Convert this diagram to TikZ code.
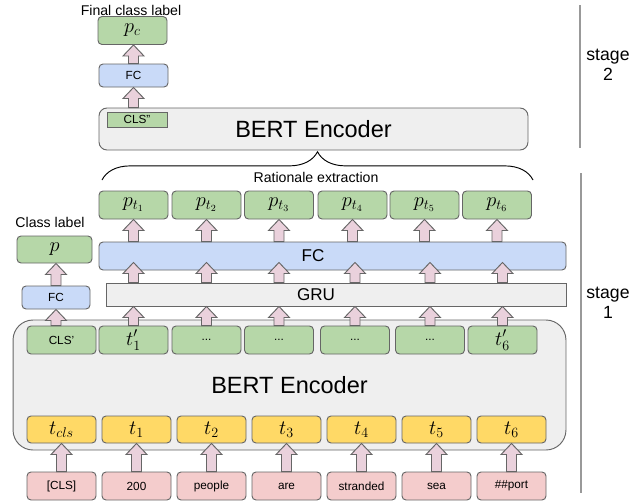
\documentclass[tikz,border=0pt]{standalone}
\usepackage{fontspec}
\setmainfont{Liberation Sans}
\definecolor{boxgreen}{HTML}{B6D7A8}
\definecolor{boxblue}{HTML}{C9DAF8}
\definecolor{boxyellow}{HTML}{FFD966}
\definecolor{boxpink}{HTML}{F4CCCC}
\definecolor{boxgray}{HTML}{EFEFEF}
\definecolor{arrowpink}{HTML}{EAD1DC}
\definecolor{linegray}{HTML}{666666}
\definecolor{stagegray}{HTML}{999999}
\usetikzlibrary{positioning,calc,decorations.pathreplacing}

% fat up arrow from #1 (tail) to the height of #2 (tip)
\newcommand{\blockup}[2]{%
  \path let \p1=#1, \p2=#2 in
    [draw=linegray, fill=arrowpink, line width=0.8pt]
    (\x1-4.25pt,\y1) -- (\x1-4.25pt,\y2-9.35pt) -- (\x1-8.9pt,\y2-9.35pt)
    -- (\x1,\y2) -- (\x1+8.9pt,\y2-9.35pt) -- (\x1+4.25pt,\y2-9.35pt)
    -- (\x1+4.25pt,\y1) -- cycle;}

\begin{document}
\begin{tikzpicture}[x=0.85pt, y=-0.85pt,
  box/.style={draw=linegray, line width=0.8pt, rounded corners=3.4pt, inner sep=0pt,
    minimum width=58.65pt, minimum height=23.8pt, font=\fontsize{17}{19}\selectfont},
  greenbox/.style={box, fill=boxgreen},
  bluebox/.style={box, fill=boxblue},
  yellowbox/.style={box, fill=boxyellow, minimum height=22.95pt},
  pinkbox/.style={box, fill=boxpink, font=\fontsize{10}{12}\selectfont},
  encbox/.style={draw=linegray, line width=0.8pt, fill=boxgray, inner sep=0pt},
  caption/.style={font=\fontsize{12}{14}\selectfont, inner sep=0pt},
  stagetxt/.style={font=\fontsize{15}{17}\selectfont, align=center, inner sep=0pt},
  small/.style={font=\fontsize{10}{12}\selectfont}]
  \useasboundingbox (0,0) rectangle (644,502);

  % Stage 2
  \node[caption] (finallbl) at (131,10) {Final class label};
  \node[greenbox] (pc) at (132.5,30.5) {$p_c$};
  \node[bluebox, small, minimum height=19.55pt] (fc2) at (133.5,75.5) {FC};
  \node[encbox, rounded corners=6.8pt, minimum width=364.65pt, minimum height=35.7pt,
    font=\fontsize{20}{24}\selectfont] (bert2) at (313.5,129) {BERT Encoder};
  \node[greenbox, small, rounded corners=0pt, minimum width=51pt, minimum height=12.75pt] (cls2) at (137,119.5) {CLS''};
  \blockup{(fc2.north)}{(pc.south)}
  \blockup{(fc2.south |- bert2.north)}{(fc2.south)}

  % Rationale extraction brace
  \coordinate (bl) at (102,180);
  \coordinate (br) at (533,180);
  \draw[line width=0.8pt, decorate, decoration={brace, amplitude=24pt}] (bl) -- (br);
  \node[caption] (ratlbl) at (316,177) {Rationale extraction};

  % Stage 1 heads
  \node[greenbox] (pt1) at (133.5,205) {$p_{t_1}$};
  \node[greenbox] (pt2) at (206.5,205) {$p_{t_2}$};
  \node[greenbox] (pt3) at (279,205) {$p_{t_3}$};
  \node[greenbox] (pt4) at (352.5,205) {$p_{t_4}$};
  \node[greenbox] (pt5) at (424.5,205) {$p_{t_5}$};
  \node[greenbox] (pt6) at (497,205) {$p_{t_6}$};
  \node[bluebox, rounded corners=3.4pt, minimum width=396.95pt,
    label={[xshift=-16.6pt, font=\fontsize{14.5}{17}\selectfont]center:FC}] (fc) at (332.5,256) {};
  \node[encbox, minimum width=391pt, minimum height=19.55pt,
    label={[xshift=-17pt, font=\fontsize{14.5}{17}\selectfont]center:GRU}] (gru) at (336,294.5) {};

  \node[caption] (clslbl) at (50,222) {Class label};
  \node[greenbox, minimum width=63.75pt, minimum height=22.95pt] (clsout) at (54.5,249.5) {$p$};
  \node[bluebox, small, minimum width=57.8pt, minimum height=19.55pt] (fcleft) at (56,297.5) {FC};

  % Stage 1 encoder
  \node[encbox, rounded corners=17pt, minimum width=470pt, minimum height=110.5pt,
    font=\fontsize{20}{24}\selectfont] (bert1) at (289.5,385) {BERT Encoder};
  \node[greenbox, small] (clsp) at (61.5,340) {CLS'};
  \node[greenbox] (tp1) at (133.5,340) {$t'_1$};
  \node[greenbox, small] (tp2) at (206.5,340) {...};
  \node[greenbox, small] (tp3) at (279,340) {...};
  \node[greenbox, small] (tp4) at (355,340) {...};
  \node[greenbox, small] (tp5) at (430,340) {...};
  \node[greenbox] (tp6) at (502.5,340) {$t'_6$};

  \node[yellowbox] (tcls) at (61.5,429.5) {$t_{cls}$};
  \node[yellowbox] (tk1) at (136.5,429.5) {$t_1$};
  \node[yellowbox] (tk2) at (211.5,429.5) {$t_2$};
  \node[yellowbox] (tk3) at (286.5,429.5) {$t_3$};
  \node[yellowbox] (tk4) at (361.5,429.5) {$t_4$};
  \node[yellowbox] (tk5) at (436.5,429.5) {$t_5$};
  \node[yellowbox] (tk6) at (511.5,429.5) {$t_6$};

  % Input tokens
  \node[pinkbox] (tok0) at (61.5,486) {[CLS]};
  \node[pinkbox] (tok1) at (136.5,486) {200};
  \node[pinkbox] (tok2) at (211.5,486) {people};
  \node[pinkbox] (tok3) at (286.5,486) {are};
  \node[pinkbox] (tok4) at (361.5,486) {stranded};
  \node[pinkbox] (tok5) at (436.5,486) {sea};
  \node[pinkbox] (tok6) at (511.5,486) {\#\#port};

  % Arrows
  \blockup{(tok0.north)}{(tcls.south)}
  \blockup{(tok1.north)}{(tk1.south)}
  \blockup{(tok2.north)}{(tk2.south)}
  \blockup{(tok3.north)}{(tk3.south)}
  \blockup{(tok4.north)}{(tk4.south)}
  \blockup{(tok5.north)}{(tk5.south)}
  \blockup{(tok6.north)}{(tk6.south)}

  \blockup{(fcleft.south |- clsp.north)}{(fcleft.south)}
  \blockup{(fcleft.north)}{(clsout.south)}

  \blockup{(tp1.north)}{(tp1.north |- gru.south)}
  \blockup{(tp2.north)}{(tp2.north |- gru.south)}
  \blockup{(tp3.north)}{(tp3.north |- gru.south)}
  \blockup{(tp4.north)}{(tp4.north |- gru.south)}
  \blockup{(tp5.north)}{(tp5.north |- gru.south)}
  \blockup{(tp6.north)}{(tp6.north |- gru.south)}

  \blockup{(tp1.north |- gru.north)}{($(tp1.north |- fc.south)+(0,-8)$)}
  \blockup{(tp2.north |- gru.north)}{($(tp2.north |- fc.south)+(0,-8)$)}
  \blockup{(tp3.north |- gru.north)}{($(tp3.north |- fc.south)+(0,-8)$)}
  \blockup{(tp4.north |- gru.north)}{($(tp4.north |- fc.south)+(0,-8)$)}
  \blockup{(tp5.north |- gru.north)}{($(tp5.north |- fc.south)+(0,-8)$)}
  \blockup{(tp6.north |- gru.north)}{($(tp6.north |- fc.south)+(0,-8)$)}

  \blockup{(pt1.south |- fc.north)}{(pt1.south)}
  \blockup{(pt2.south |- fc.north)}{(pt2.south)}
  \blockup{(pt3.south |- fc.north)}{(pt3.south)}
  \blockup{(pt4.south |- fc.north)}{(pt4.south)}
  \blockup{(pt5.south |- fc.north)}{(pt5.south)}
  \blockup{(pt6.south |- fc.north)}{(pt6.south)}

  % Stage markers
  \coordinate (s2top) at (580,5);
  \coordinate (s2bot) at (580,148);
  \draw[stagegray, line width=1pt] (s2top) -- (s2bot);
  \node[stagetxt] (stage2) at (608,65) {stage\\2};
  \coordinate (s1top) at (581,173);
  \coordinate (s1bot) at (581,493);
  \draw[stagegray, line width=1pt] (s1top) -- (s1bot);
  \node[stagetxt] (stage1) at (608,303) {stage\\1};
\end{tikzpicture}
\end{document}
